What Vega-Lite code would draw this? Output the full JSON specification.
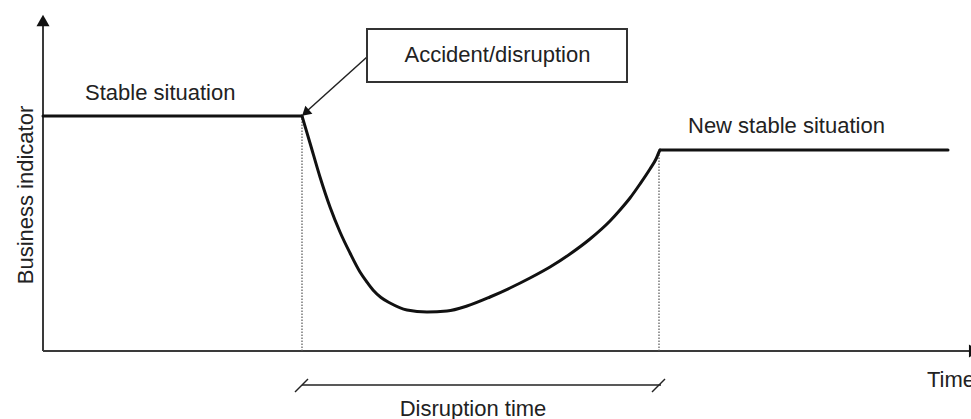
{
  "$schema": "https://vega.github.io/schema/vega-lite/v6.json",
  "width": 971,
  "height": 419,
  "autosize": {"type": "none"},
  "padding": 0,
  "background": "white",
  "config": {"view": {"stroke": null}},
  "datasets": {
    "curve": [
      {"seg": "stable", "x": 0, "y": 23.5},
      {"seg": "stable", "x": 25.9, "y": 23.5},
      {"seg": "disruption", "x": 25.9, "y": 23.5},
      {"seg": "disruption", "x": 26.7, "y": 20.8},
      {"seg": "disruption", "x": 27.7, "y": 17.4},
      {"seg": "disruption", "x": 28.7, "y": 14.4},
      {"seg": "disruption", "x": 29.7, "y": 11.9},
      {"seg": "disruption", "x": 30.7, "y": 9.8},
      {"seg": "disruption", "x": 31.7, "y": 7.9},
      {"seg": "disruption", "x": 32.35, "y": 6.95},
      {"seg": "disruption", "x": 33.0, "y": 6.1},
      {"seg": "disruption", "x": 33.8, "y": 5.35},
      {"seg": "disruption", "x": 34.7, "y": 4.8},
      {"seg": "disruption", "x": 36.4, "y": 4.1},
      {"seg": "disruption", "x": 38.4, "y": 3.9},
      {"seg": "disruption", "x": 40.4, "y": 4.0},
      {"seg": "disruption", "x": 42.4, "y": 4.5},
      {"seg": "disruption", "x": 44.7, "y": 5.4},
      {"seg": "disruption", "x": 46.7, "y": 6.3},
      {"seg": "disruption", "x": 48.7, "y": 7.3},
      {"seg": "disruption", "x": 50.7, "y": 8.4},
      {"seg": "disruption", "x": 52.7, "y": 9.7},
      {"seg": "disruption", "x": 54.7, "y": 11.2},
      {"seg": "disruption", "x": 56.7, "y": 13.0},
      {"seg": "disruption", "x": 57.7, "y": 14.1},
      {"seg": "disruption", "x": 58.7, "y": 15.3},
      {"seg": "disruption", "x": 59.7, "y": 16.7},
      {"seg": "disruption", "x": 60.7, "y": 18.2},
      {"seg": "disruption", "x": 61.3, "y": 19.2},
      {"seg": "disruption", "x": 61.6, "y": 19.9},
      {"seg": "disruption", "x": 61.7, "y": 20.1},
      {"seg": "newstable", "x": 61.7, "y": 20.1},
      {"seg": "newstable", "x": 90.5, "y": 20.1}
    ],
    "axes": [
      {"x": 0, "y": 0, "x2": 0, "y2": 32.6},
      {"x": 0, "y": 0, "x2": 92.6, "y2": 0}
    ],
    "dotted": [
      {"x": 25.9, "y": 0, "x2": 25.9, "y2": 23.5},
      {"x": 61.6, "y": 0, "x2": 61.6, "y2": 20.1}
    ],
    "bracket": [
      {"x": 25.9, "y": -3.4, "x2": 61.8, "y2": -3.4},
      {"x": 25.2, "y": -4.1, "x2": 26.5, "y2": -2.8},
      {"x": 60.9, "y": -4.1, "x2": 62.2, "y2": -2.8}
    ],
    "pointer": [
      {"x": 32.4, "y": 29.4, "x2": 26.4, "y2": 24.0}
    ],
    "box": [
      {"x": 32.4, "y": 32.2, "x2": 58.4, "y2": 26.9}
    ],
    "arrowUp": [{"x": 0, "y": 33.05}],
    "arrowRight": [{"x": 93.16, "y": 0}],
    "arrowPointer": [{"x": 26.25, "y": 23.82}],
    "textLeft": [
      {"x": 4.2, "y": 25.1, "label": "Stable situation"},
      {"x": 64.5, "y": 21.8, "label": "New stable situation"},
      {"x": 88.4, "y": -3.57, "label": "Time"}
    ],
    "textCenter": [
      {"x": 45.45, "y": 28.9, "label": "Accident/disruption"},
      {"x": 43.0, "y": -6.47, "label": "Disruption time"}
    ],
    "textRotated": [
      {"x": -1.0, "y": 15.6, "label": "Business indicator"}
    ]
  },
  "encoding": {
    "x": {"field": "x", "type": "quantitative", "scale": {"domain": [-4.3, 92.8], "nice": false, "zero": false}, "axis": null},
    "y": {"field": "y", "type": "quantitative", "scale": {"domain": [-6.8, 35.1], "nice": false, "zero": false}, "axis": null}
  },
  "layer": [
    {
      "data": {"name": "axes"},
      "mark": {"type": "rule", "stroke": "#3a3a3a", "strokeWidth": 2},
      "encoding": {"x2": {"field": "x2"}, "y2": {"field": "y2"}}
    },
    {
      "data": {"name": "arrowUp"},
      "mark": {"type": "point", "shape": "triangle-up", "filled": true, "color": "#111", "opacity": 1, "size": 170}
    },
    {
      "data": {"name": "arrowRight"},
      "mark": {"type": "point", "shape": "triangle-right", "filled": true, "color": "#111", "opacity": 1, "size": 170}
    },
    {
      "data": {"name": "dotted"},
      "mark": {"type": "rule", "stroke": "#555", "strokeWidth": 1.2, "strokeDash": [1.5, 1.5]},
      "encoding": {"x2": {"field": "x2"}, "y2": {"field": "y2"}}
    },
    {
      "data": {"name": "bracket"},
      "mark": {"type": "rule", "stroke": "#222", "strokeWidth": 1.5},
      "encoding": {"x2": {"field": "x2"}, "y2": {"field": "y2"}}
    },
    {
      "data": {"name": "curve"},
      "mark": {"type": "line", "interpolate": "monotone", "stroke": "#111", "strokeWidth": 3, "strokeCap": "round", "strokeJoin": "round"},
      "encoding": {"detail": {"field": "seg"}, "order": {"field": "x"}}
    },
    {
      "data": {"name": "pointer"},
      "mark": {"type": "rule", "stroke": "#222", "strokeWidth": 1.5},
      "encoding": {"x2": {"field": "x2"}, "y2": {"field": "y2"}}
    },
    {
      "data": {"name": "arrowPointer"},
      "mark": {"type": "point", "shape": "triangle-up", "filled": true, "color": "#111", "opacity": 1, "size": 110, "angle": 227.8}
    },
    {
      "data": {"name": "box"},
      "mark": {"type": "rect", "fill": "white", "stroke": "#333", "strokeWidth": 2},
      "encoding": {"x2": {"field": "x2"}, "y2": {"field": "y2"}}
    },
    {
      "data": {"name": "textLeft"},
      "mark": {"type": "text", "align": "left", "baseline": "alphabetic", "font": "Liberation Sans", "fontSize": 22, "color": "#222"},
      "encoding": {"text": {"field": "label"}}
    },
    {
      "data": {"name": "textCenter"},
      "mark": {"type": "text", "align": "center", "baseline": "alphabetic", "font": "Liberation Sans", "fontSize": 22, "color": "#222"},
      "encoding": {"text": {"field": "label"}}
    },
    {
      "data": {"name": "textRotated"},
      "mark": {"type": "text", "align": "center", "baseline": "alphabetic", "angle": 270, "font": "Liberation Sans", "fontSize": 22, "color": "#222"},
      "encoding": {"text": {"field": "label"}}
    }
  ]
}
